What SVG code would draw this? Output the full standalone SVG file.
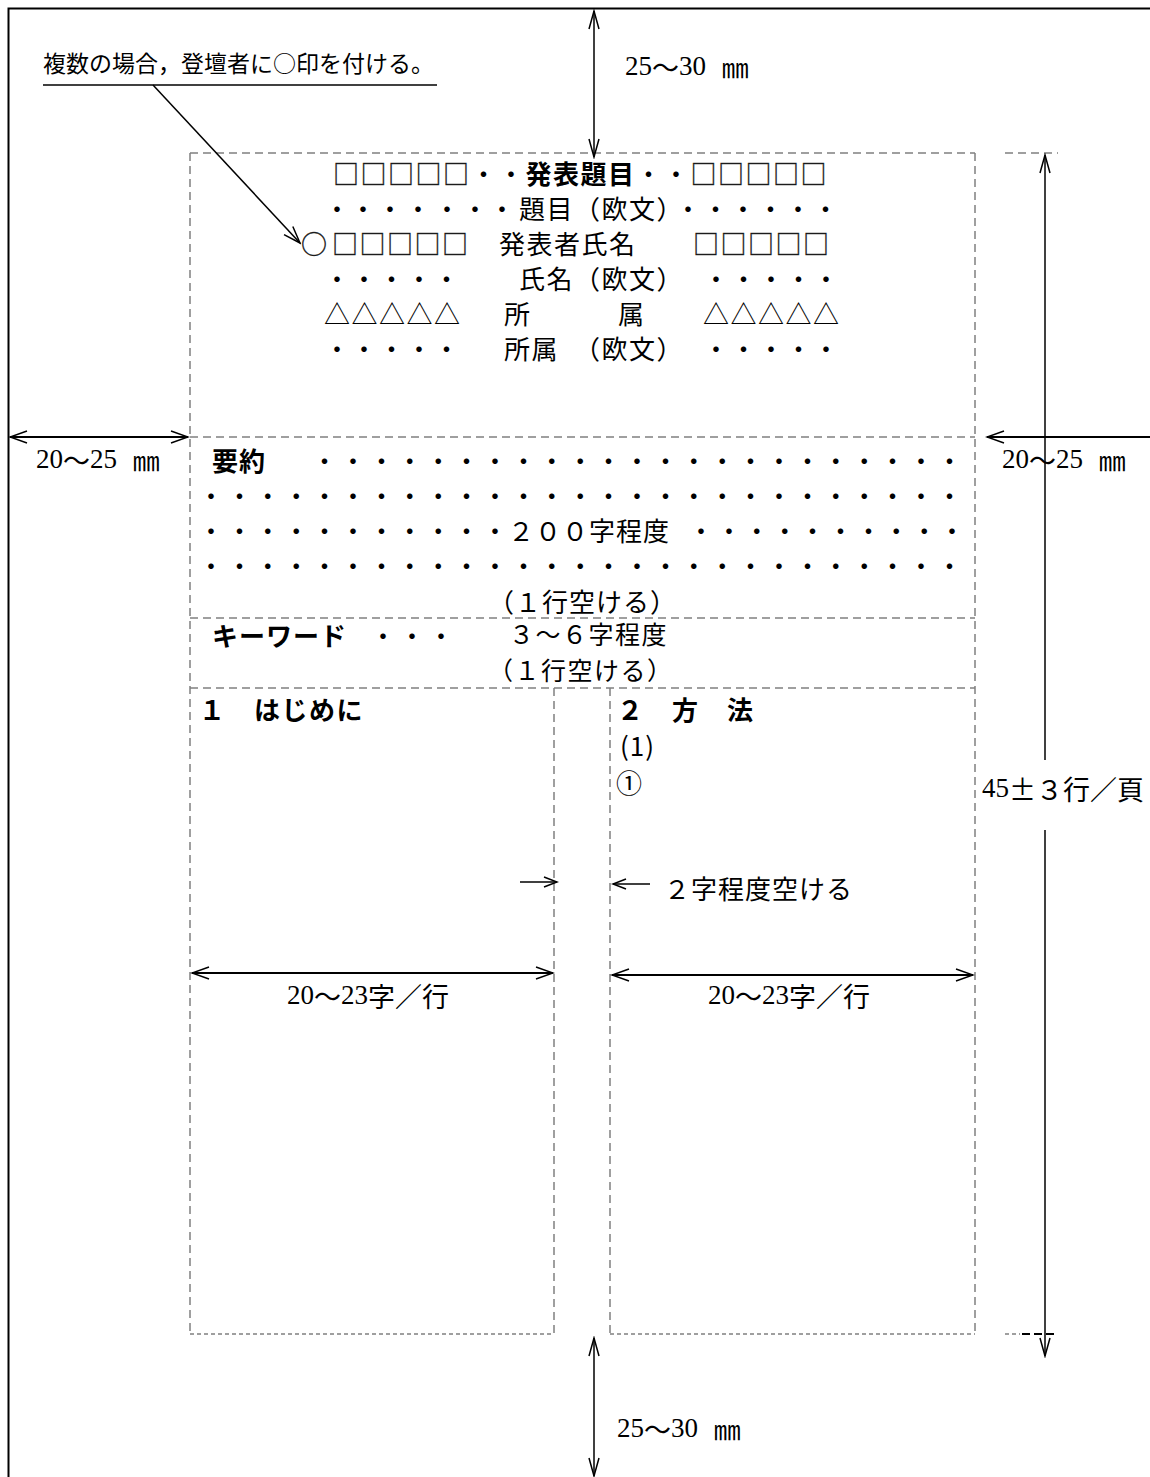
<svg xmlns="http://www.w3.org/2000/svg" width="1150" height="1477" viewBox="0 0 1150 1477">
<defs>
<style>
text{dominant-baseline:central;fill:#000}
.m{font-family:'Noto Sans CJK JP',sans-serif;font-size:26px;letter-spacing:1.5px}
.k{font-family:'Noto Sans CJK JP',sans-serif;font-size:26px;letter-spacing:1px}
.k5{font-family:'Noto Sans CJK JP',sans-serif;font-size:25px;letter-spacing:1.5px}
.b{font-weight:bold}
.sq{stroke:#333;stroke-width:0.35px}
.d{font-family:'Noto Sans CJK JP',sans-serif;font-size:26px;text-anchor:middle}
.s{font-family:'Liberation Serif','Noto Sans CJK JP',serif;font-size:27px}
.cj{font-family:'Noto Sans CJK JP',sans-serif}
.n{font-family:'Noto Sans CJK JP',sans-serif;font-size:23px}
.dash{stroke:#808080;stroke-width:1.5;stroke-dasharray:8 5;fill:none}
.fine{stroke:#808080;stroke-width:1.5;stroke-dasharray:4 3;fill:none}
.ln{stroke:#000;stroke-width:1.5;fill:none}
.th{stroke:#000;stroke-width:2;fill:none}
</style>
<marker id="ah" markerUnits="userSpaceOnUse" viewBox="-1 -1 20 14" markerWidth="20" markerHeight="14" refX="17" refY="6" orient="auto-start-reverse"><path d="M0,0 L17,6 L0,12" fill="none" stroke="#000" stroke-width="1.5"/></marker>
<marker id="av" markerUnits="userSpaceOnUse" viewBox="-1 -1 21 12" markerWidth="21" markerHeight="12" refX="18" refY="5" orient="auto-start-reverse"><path d="M0,0 L18,5 L0,10" fill="none" stroke="#000" stroke-width="1.5"/></marker>
<marker id="as" markerUnits="userSpaceOnUse" viewBox="-1 -1 16 12" markerWidth="16" markerHeight="12" refX="13" refY="5" orient="auto-start-reverse"><path d="M0,0 L13,5 L0,10" fill="none" stroke="#000" stroke-width="1.5"/></marker>
</defs>
<rect width="1150" height="1477" fill="#fff"/>

<g id="page-frame">
<path d="M8.5,1477 L8.5,8.5 L1150,8.5" stroke="#000" stroke-width="2" fill="none"/>
</g>

<g id="layout-guides">
<line class="dash" x1="190" y1="153" x2="975" y2="153"/>
<line class="dash" x1="1005" y1="153" x2="1058" y2="153"/>
<line class="dash" x1="190" y1="153" x2="190" y2="1334"/>
<line class="dash" x1="975" y1="153" x2="975" y2="1334"/>
<line class="dash" x1="190" y1="437" x2="975" y2="437"/>
<line class="dash" x1="190" y1="618" x2="975" y2="618"/>
<line class="dash" x1="190" y1="688" x2="975" y2="688"/>
<line class="dash" x1="554" y1="688" x2="554" y2="1334"/>
<line class="dash" x1="610" y1="688" x2="610" y2="1334"/>
<line class="fine" x1="190" y1="1334" x2="554" y2="1334"/>
<line class="fine" x1="610" y1="1334" x2="975" y2="1334"/>
<line class="fine" x1="1005" y1="1334" x2="1020" y2="1334"/>
<line x1="1022" y1="1334" x2="1058" y2="1334" stroke="#000" stroke-width="2" stroke-dasharray="8 4"/>
</g>

<g id="connectors">
<line class="ln" x1="43" y1="85" x2="437" y2="85"/>
<line class="ln" x1="153" y1="85" x2="300" y2="243" marker-end="url(#ah)"/>
<line class="ln" x1="594" y1="11" x2="594" y2="157" marker-start="url(#av)" marker-end="url(#av)"/>
<line class="ln" x1="594" y1="1338" x2="594" y2="1476" marker-start="url(#av)" marker-end="url(#av)"/>
<line class="ln" x1="1045" y1="155" x2="1045" y2="760" marker-start="url(#av)"/>
<line class="ln" x1="1045" y1="830" x2="1045" y2="1356" marker-end="url(#av)"/>
<line class="th" x1="10" y1="437" x2="188" y2="437" marker-start="url(#ah)" marker-end="url(#ah)"/>
<line class="th" x1="1150" y1="437" x2="987" y2="437" marker-end="url(#ah)"/>
<line class="th" x1="192" y1="973" x2="553" y2="973" marker-start="url(#ah)" marker-end="url(#ah)"/>
<line class="th" x1="612" y1="975" x2="973" y2="975" marker-start="url(#ah)" marker-end="url(#ah)"/>
<line class="ln" x1="520" y1="882" x2="557" y2="882" marker-end="url(#as)"/>
<line class="ln" x1="650" y1="884" x2="613" y2="884" marker-end="url(#as)"/>
</g>

<g id="note">
<text class="n" x="43" y="62">複数の場合，登壇者に○印を付ける。</text>
</g>

<g id="title-block">
<text class="m" x="333" y="172"><tspan class="sq">□□□□□</tspan>・・<tspan class="b">発表題目</tspan>・・<tspan class="sq">□□□□□</tspan></text>
<text class="d" x="337 363 390 418 447 475 502" y="207">・・・・・・・</text>
<text class="m" x="519" y="207">題目（欧文）</text>
<text class="d" x="688 715.5 743 770.5 798 825.5" y="207">・・・・・・</text>
<text class="m sq" x="301" y="242">○</text>
<text class="m sq" x="332" y="242">□□□□□</text>
<text class="m" x="499" y="242">発表者氏名</text>
<text class="m sq" x="693" y="242">□□□□□</text>
<text class="d" x="337 364 391.5 419 446.5" y="277">・・・・・</text>
<text class="m" x="519" y="277">氏名（欧文）</text>
<text class="d" x="716 743.5 771 798.5 826" y="277">・・・・・</text>
<text class="m" x="324" y="312">△△△△△</text>
<text class="m" x="504" y="312">所</text>
<text class="m" x="618" y="312">属</text>
<text class="m" x="703" y="312">△△△△△</text>
<text class="d" x="337 364 391.5 419 446.5" y="347">・・・・・</text>
<text class="m" x="504" y="347">所属</text>
<text class="m" x="574" y="347">（欧文）</text>
<text class="d" x="716 743.5 771 798.5 826" y="347">・・・・・</text>
</g>

<g id="abstract">
<text class="k b" x="212" y="459">要約</text>
<text class="d" x="324.6 353 381.4 409.8 438.2 466.6 495 523.4 551.8 580.2 608.6 637 665.4 693.8 722.2 750.6 779 807.4 835.8 864.2 892.6 921 949.4" y="459">・・・・・・・・・・・・・・・・・・・・・・・</text>
<text class="d" x="211 239.4 267.8 296.2 324.6 353 381.4 409.8 438.2 466.6 495 523.4 551.8 580.2 608.6 637 665.4 693.8 722.2 750.6 779 807.4 835.8 864.2 892.6 921 949.4" y="494">・・・・・・・・・・・・・・・・・・・・・・・・・・・</text>
<text class="d" x="211 239.4 267.8 296.2 324.6 353 381.4 409.8 438.2 466.6 495" y="529">・・・・・・・・・・・</text>
<text class="k" x="508" y="529">２００字程度</text>
<text class="d" x="701 728.9 756.8 784.7 812.6 840.5 868.4 896.3 924.2 952" y="529">・・・・・・・・・・</text>
<text class="d" x="211 239.4 267.8 296.2 324.6 353 381.4 409.8 438.2 466.6 495 523.4 551.8 580.2 608.6 637 665.4 693.8 722.2 750.6 779 807.4 835.8 864.2 892.6 921 949.4" y="564">・・・・・・・・・・・・・・・・・・・・・・・・・・・</text>
<text class="k" x="488" y="600">（１行空ける）</text>
</g>

<g id="keywords">
<text class="k b" x="212" y="634">キーワード</text>
<text class="d" x="383 412 441" y="634">・・・</text>
<text class="k5" x="509" y="633">３～６字程度</text>
<text class="k5" x="488" y="669">（１行空ける）</text>
</g>

<g id="column-1">
<text class="d b" x="212" y="708">１</text>
<text class="m b" x="254" y="708">はじめに</text>
</g>

<g id="column-2">
<text class="d b" x="630" y="708">２</text>
<text class="m b" x="672" y="708">方</text>
<text class="m b" x="727" y="708">法</text>
<text class="k" x="620" y="744">(1)</text>
<text class="k" x="616" y="781">①</text>
<text class="k" x="664" y="887">２字程度空ける</text>
</g>

<g id="dimension-labels">
<text class="s" x="625" y="66">25<tspan class="cj">～</tspan>30 <tspan class="cj" dx="9">㎜</tspan></text>
<text class="s" x="617" y="1428">25<tspan class="cj">～</tspan>30 <tspan class="cj" dx="9">㎜</tspan></text>
<text class="s" x="36" y="459">20<tspan class="cj">～</tspan>25 <tspan class="cj" dx="9">㎜</tspan></text>
<text class="s" x="1002" y="459">20<tspan class="cj">～</tspan>25 <tspan class="cj" dx="9">㎜</tspan></text>
<text class="s" x="287" y="995">20<tspan class="cj">～</tspan>23<tspan class="cj">字／行</tspan></text>
<text class="s" x="708" y="995">20<tspan class="cj">～</tspan>23<tspan class="cj">字／行</tspan></text>
<text class="s" x="982" y="788">45<tspan class="cj">±３行／頁</tspan></text>
</g>
</svg>
